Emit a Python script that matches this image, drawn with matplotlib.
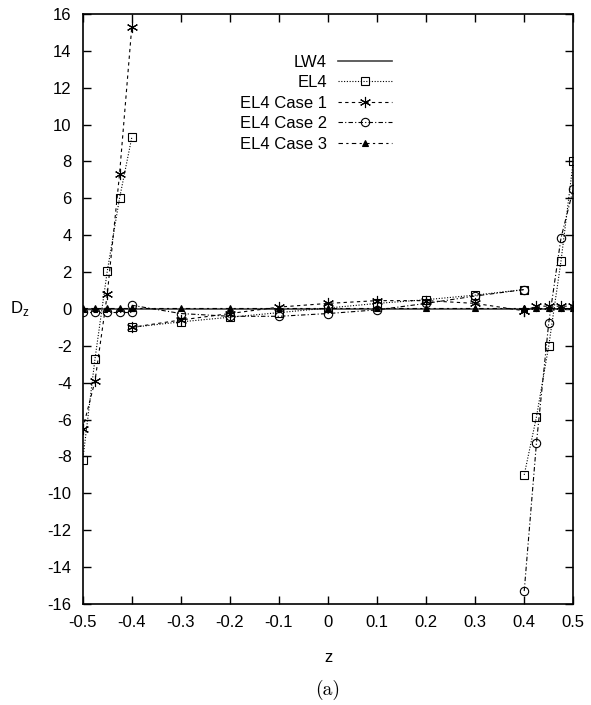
import matplotlib
matplotlib.use("Agg")
import matplotlib.pyplot as plt
import numpy as np

plt.rcParams['font.family'] = ['Liberation Sans', 'DejaVu Sans']
plt.rcParams['axes.unicode_minus'] = False

# z positions: bottom face layer, core, top face layer
z_bot = [-0.5, -0.475, -0.45, -0.425, -0.4]
z_core = [-0.4, -0.3, -0.2, -0.1, 0.0, 0.1, 0.2, 0.3, 0.4]
z_top = [0.4, 0.425, 0.45, 0.475, 0.5]

lw4_z = [-0.5, 0.5]
lw4_d = [0.0, 0.0]

el4_bot = [-8.2, -2.7, 2.05, 6.0, 9.3]
el4_core = [-1.0, -0.7, -0.45, -0.2, 0.05, 0.3, 0.5, 0.75, 1.05]
el4_top = [-9.0, -5.85, -2.0, 2.6, 8.0]

c1_bot = [-6.5, -3.9, 0.8, 7.3, 15.3]
c1_core = [-1.0, -0.6, -0.25, 0.1, 0.3, 0.45, 0.45, 0.3, -0.1]
c1_top = [-0.1, 0.15, 0.15, 0.15, 0.15]

c2_bot = [-0.15, -0.15, -0.15, -0.15, -0.15]
c2_core = [0.2, -0.25, -0.4, -0.4, -0.25, -0.05, 0.3, 0.7, 1.05]
c2_top = [-15.3, -7.25, -0.75, 3.85, 6.5]

c3_bot = [0.05, 0.05, 0.05, 0.05, 0.05]
c3_core = [0.05, 0.05, 0.05, 0.05, 0.05, 0.05, 0.05, 0.05, 0.05]
c3_top = [0.05, 0.05, 0.05, 0.05, 0.05]

fig = plt.figure(figsize=(5.91, 7.05), dpi=100)
ax = fig.add_axes([0.140, 0.1433, 0.830, 0.837])

lw = 0.8
ax.plot(lw4_z, lw4_d, '-', color='#444444', lw=1.2, label='LW4')

styles = [
    ('EL4', (el4_bot, el4_core, el4_top), (0, (1, 1.5)), 's', 'none', 6),
    ('EL4 Case 1', (c1_bot, c1_core, c1_top), (0, (3, 3)), (6, 2, 0), 'black', 8),
    ('EL4 Case 2', (c2_bot, c2_core, c2_top), (0, (4, 2, 1, 2)), 'o', 'none', 6),
    ('EL4 Case 3', (c3_bot, c3_core, c3_top), (0, (4, 3, 2, 3)), '^', 'black', 5),
]
for name, parts, ls, mk, fc, ms in styles:
    for i, (zz, dd) in enumerate(zip((z_bot, z_core, z_top), parts)):
        ax.plot(zz, dd, linestyle=ls, color='black', lw=lw, marker=mk,
                mfc=fc, mec='black', ms=ms, mew=0.8,
                label=name if i == 0 else None)

ax.set_xlim(-0.5, 0.5)
ax.set_ylim(-16, 16)
ax.set_xticks(np.arange(-0.5, 0.51, 0.1))
ax.set_xticklabels(['-0.5', '-0.4', '-0.3', '-0.2', '-0.1', '0', '0.1', '0.2', '0.3', '0.4', '0.5'])
ax.set_yticks(np.arange(-16, 17, 2))
ax.tick_params(direction='in', length=6, width=1, top=True, right=True,
               labelsize=12, pad=8)
for s in ax.spines.values():
    s.set_linewidth(1.2)

ax.set_xlabel('z', fontsize=12, labelpad=14)
ax.set_ylabel('D$_\\mathregular{z}$', fontsize=12, rotation=0, labelpad=20, va='center')

leg = ax.legend(loc='upper center', bbox_to_anchor=(0.475, 0.948), frameon=False,
                markerfirst=False, fontsize=12, handlelength=3.2,
                labelspacing=0.33, borderaxespad=0.2, handletextpad=0.7)
for t in leg.get_texts():
    t.set_ha('right')

fig.text(0.5 * (0.140 + 0.970), 0.021, '(a)', fontsize=14, family='cmr10',
         ha='center', va='center')

fig.savefig('out.png', dpi=100)
